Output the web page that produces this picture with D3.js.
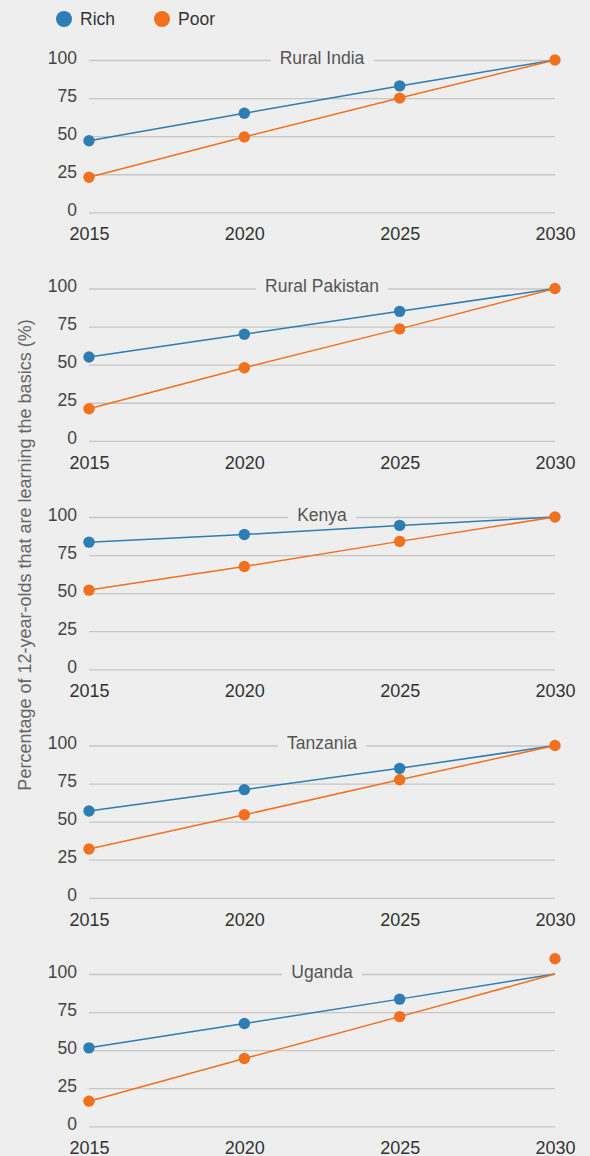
<!DOCTYPE html>
<html>
<head>
<meta charset="utf-8">
<script src="https://cdn.jsdelivr.net/npm/d3@7"></script>
<style>
  html, body { margin: 0; padding: 0; background: #eeeeee; }
  svg { display: block; font-family: "Liberation Sans", Arial, Helvetica, sans-serif; }
</style>
</head>
<body>
<svg id="chart" width="590" height="1156"></svg>
<script>
// ---- data ----
const years = [2015, 2020, 2025, 2030];
const regions = ["Rural India", "Rural Pakistan", "Kenya", "Tanzania", "Uganda"];
const richIndia = [47, 65, 83, 100];
const poorIndia = [23, 49.5, 75, 100];
const richPakistan = [55, 70, 85, 100];
const poorPakistan = [21, 48, 73.5, 100];
const richKenya = [83.5, 88.5, 94.5, 100];
const poorKenya = [52, 67.5, 84, 100];
const richTanzania = [57, 71, 85, 100];
const poorTanzania = [32, 54.5, 77.5, 100];
const richUganda = [51.5, 67.5, 83.5, 100];
const poorUganda = [16.5, 44.5, 72, 100];
// marker values (the Uganda poor 2030 marker sits above the line end)
const poorMarkers2030 = [100, 100, 100, 100, 110];
const richSeries = [richIndia, richPakistan, richKenya, richTanzania, richUganda];
const poorSeries = [poorIndia, poorPakistan, poorKenya, poorTanzania, poorUganda];
const yTicks = [0, 25, 50, 75, 100];
const seriesNames = ["Rich", "Poor"];
const yTitle = "Percentage of 12-year-olds that are learning the basics (%)";

// ---- style ----
const colors = { Rich: "#2e7db3", Poor: "#f2711f" };
const svg = d3.select("#chart");

const x = d3.scaleLinear().domain([2015, 2030]).range([89, 555]);
const panelTop0 = 60, panelStep = 228.5, panelH = 152.3;

// legend
const legend = svg.append("g");
seriesNames.forEach((name, i) => {
  const lx = 64 + i * 98;
  legend.append("circle").attr("cx", lx).attr("cy", 19).attr("r", 8).attr("fill", colors[name]);
  legend.append("text").attr("x", lx + 16).attr("y", 25).attr("font-size", 17.5)
    .attr("fill", "#333").text(name);
});

// y-axis title
svg.append("text")
  .attr("transform", "translate(31,555) rotate(-90)")
  .attr("text-anchor", "middle")
  .attr("font-size", 18)
  .attr("fill", "#666")
  .text(yTitle);

regions.forEach((region, i) => {
  const top = panelTop0 + i * panelStep;
  const y = d3.scaleLinear().domain([0, 100]).range([top + panelH, top]);
  const g = svg.append("g");

  // gridlines + y labels
  const yAxis = d3.axisLeft(y).tickValues(yTicks).tickSize(-(x.range()[1] - x.range()[0])).tickFormat(d => d);
  const ga = g.append("g").attr("transform", `translate(${x.range()[0]},0)`).call(yAxis);
  ga.select(".domain").remove();
  ga.selectAll(".tick line").attr("stroke", "#c6c6c6").attr("stroke-width", 1.3);
  ga.selectAll(".tick text").attr("x", -12).attr("dy", null).attr("y", 3)
    .attr("font-size", 17.5).attr("fill", "#444")
    .attr("font-family", "Liberation Sans, Arial, sans-serif");

  // x tick labels
  const xAxis = d3.axisBottom(x).tickValues(years).tickSize(0).tickFormat(d3.format("d"));
  const gx = g.append("g").attr("transform", `translate(0,${top + panelH})`).call(xAxis);
  gx.select(".domain").remove();
  gx.selectAll(".tick text").attr("y", 28).attr("dy", null).attr("font-size", 18)
    .attr("fill", "#333").attr("font-family", "Liberation Sans, Arial, sans-serif");

  // panel title with gap in gridline
  const cx = (x.range()[0] + x.range()[1]) / 2;
  const title = g.append("text").attr("x", cx).attr("y", top + 3.5)
    .attr("text-anchor", "middle").attr("font-size", 17.5).attr("fill", "#555").text(region);
  const bb = title.node().getBBox();
  g.append("rect")
    .attr("x", bb.x - 9).attr("y", top - 3).attr("width", bb.width + 18).attr("height", 6)
    .attr("fill", "#eeeeee");
  title.raise();

  const line = d3.line().x((d, j) => x(years[j])).y(d => y(d));
  [["Rich", richSeries[i]], ["Poor", poorSeries[i]]].forEach(([name, vals]) => {
    g.append("path").datum(vals).attr("d", line).attr("fill", "none")
      .attr("stroke", colors[name]).attr("stroke-width", 1.5);
  });
  // markers
  g.selectAll(".rich").data(richSeries[i].slice(0, 3)).join("circle").attr("class", "rich")
    .attr("cx", (d, j) => x(years[j])).attr("cy", d => y(d)).attr("r", 5.7).attr("fill", colors.Rich);
  const pm = poorSeries[i].slice(0, 3).concat([poorMarkers2030[i]]);
  g.selectAll(".poor").data(pm).join("circle").attr("class", "poor")
    .attr("cx", (d, j) => x(years[j])).attr("cy", d => y(d)).attr("r", 5.7).attr("fill", colors.Poor);
});
</script>
</body>
</html>
